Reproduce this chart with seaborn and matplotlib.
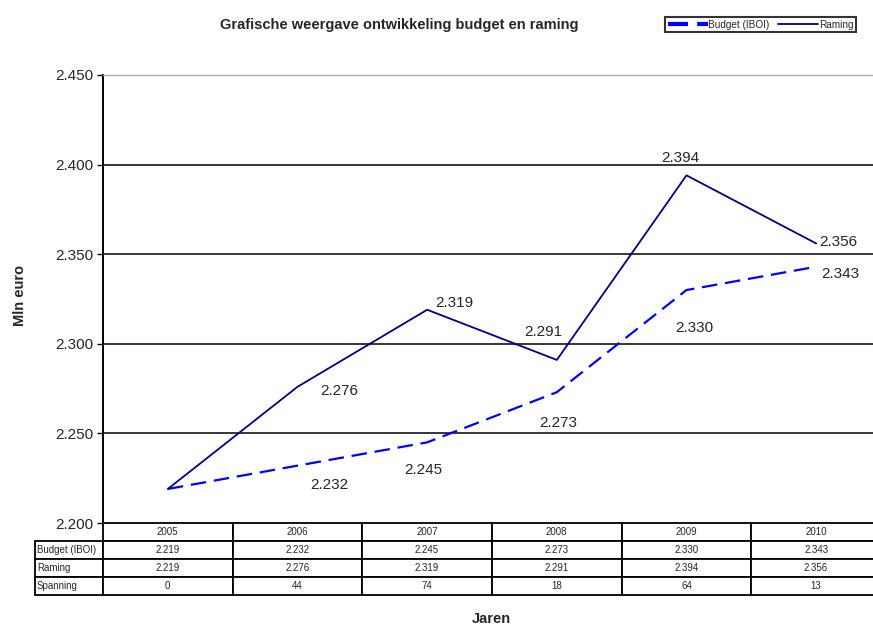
import matplotlib
matplotlib.use("Agg")
import matplotlib.pyplot as plt
from matplotlib.ticker import FuncFormatter
import seaborn as sns
import pandas as pd

# ------------------------------------------------------
# data (mln euro)
# ------------------------------------------------------
jaren = ["2005", "2006", "2007", "2008", "2009", "2010"]
budget = [2219, 2232, 2245, 2273, 2330, 2343]
raming = [2219, 2276, 2319, 2291, 2394, 2356]
spanning = [0, 44, 74, 18, 64, 13]

# label offsets in pixels (first year has no label)
raming_offsets = [None, (42, -4), (27, 7), (-14, 28), (-6, 17), (22, 1)]
budget_offsets = [None, (32, -19), (-4, -28), (1, -31), (8, -38), (24, -7)]


def nl(v):
    return f"{int(v):,}".replace(",", ".")


sns.set_style("white")
plt.rcParams["font.family"] = ["Liberation Sans", "DejaVu Sans"]

df = pd.DataFrame({"jaar": jaren, "budget": budget, "raming": raming})

W, H = 873, 626
fig = plt.figure(figsize=(W / 100, H / 100), dpi=100)
ax = fig.add_axes([103 / W, (H - 523) / H, 778 / W, 448 / H])

sns.lineplot(data=df, x="jaar", y="budget", ax=ax, color="#0000FF",
             lw=1.6, ls=(0, (7, 3.5)), label="Budget (IBOI)")
sns.lineplot(data=df, x="jaar", y="raming", ax=ax, color="#000080",
             lw=1.3, label="Raming")

ax.set_xlim(-0.5, len(jaren) - 0.5)
ax.set_ylim(2200, 2450)
ax.set_yticks(range(2200, 2451, 50))
ax.yaxis.set_major_formatter(FuncFormatter(lambda v, p: nl(v)))
ax.tick_params(axis="y", direction="out", length=4, width=1, color="black",
               labelsize=11, pad=3, left=True)
ax.set_xticks([])
ax.set_xlabel("")
ax.set_ylabel("")

for y in range(2250, 2401, 50):
    ax.axhline(y, color="black", lw=1.1, zorder=0)

for name, s in ax.spines.items():
    s.set_visible(False)
ax.spines["left"].set_visible(True)
ax.spines["left"].set_color("black")
ax.spines["left"].set_linewidth(1.4)
ax.spines["top"].set_visible(True)
ax.spines["top"].set_color("#b0b0b0")
ax.spines["top"].set_linewidth(1.0)

# data labels
for i, (v, off) in enumerate(zip(raming, raming_offsets)):
    if off is None:
        continue
    ax.annotate(nl(v), (i, v), xytext=off, textcoords="offset pixels",
                ha="center", va="center", fontsize=11)
for i, (v, off) in enumerate(zip(budget, budget_offsets)):
    if off is None:
        continue
    ax.annotate(nl(v), (i, v), xytext=off, textcoords="offset pixels",
                ha="center", va="center", fontsize=11)

# data table below the plot
rows = [[""] + jaren,
        ["Budget (IBOI)"] + [nl(v) for v in budget],
        ["Raming"] + [nl(v) for v in raming],
        ["Spanning"] + [str(v) for v in spanning]]
tab = ax.table(cellText=rows, cellLoc="center",
               colWidths=[68 / 846] + [130 / 846] * len(jaren),
               bbox=[-68 / 778, -72 / 448, 846 / 778, 72 / 448])
tab.auto_set_font_size(False)
tab.set_fontsize(7)
for (r, c), cell in tab.get_celld().items():
    cell.set_linewidth(1.3)
    cell.set_edgecolor("black")
    if c == 0:
        cell._loc = "left"
        cell.PAD = 0.03
        cell.get_text().set_ha("left")
    if r == 0 and c == 0:
        cell.visible_edges = "open"

fig.text(399 / W, 1 - 25 / H, "Grafische weergave ontwikkeling budget en raming",
         ha="center", va="center", fontsize=10.5, fontweight="bold")
fig.text(20 / W, 1 - 295 / H, "Mln euro", rotation=90, ha="center",
         va="center", fontsize=10.5, fontweight="bold")
fig.text(491 / W, 1 - 619 / H, "Jaren", ha="center", va="center",
         fontsize=10.5, fontweight="bold")

handles, labels = ax.get_legend_handles_labels()
ax.get_legend().remove()
leg = fig.legend(handles, labels, loc="upper left",
                 bbox_to_anchor=(665 / W, 1 - 17 / H),
                 ncol=2, fontsize=7.2, frameon=True, fancybox=False,
                 handlelength=4.0, handletextpad=0.1, columnspacing=0.8,
                 borderpad=0.25, borderaxespad=0)
leg.get_frame().set_edgecolor("black")
leg.get_frame().set_linewidth(1.5)
leg.get_lines()[0].set_linewidth(3)
leg.get_lines()[0].set_linestyle((0, (4.8, 2.2)))

fig.savefig("out.png", dpi=100)
